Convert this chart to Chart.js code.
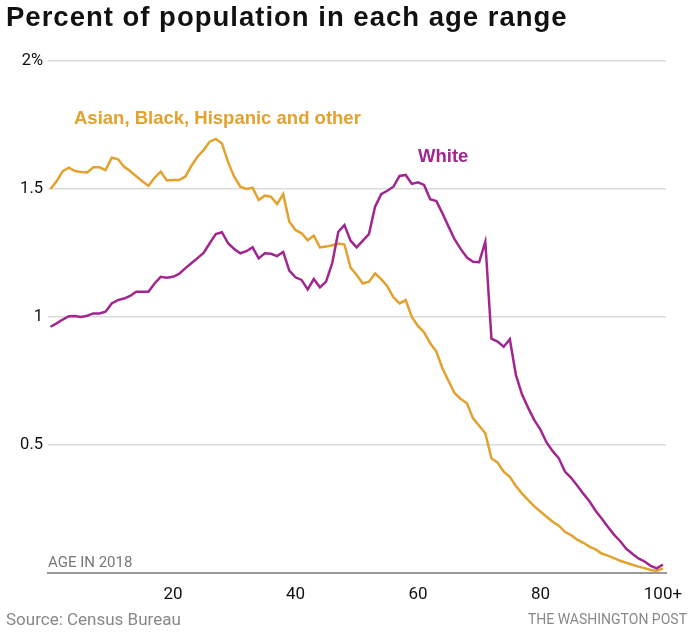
<!DOCTYPE html>
<html>
<head>
<meta charset="utf-8">
<script src="https://cdn.jsdelivr.net/npm/chart.js@4"></script>
<style>
  html, body { margin: 0; padding: 0; background: #fff; }
  #wrap { position: relative; width: 691px; height: 635px; overflow: hidden; font-family: "Roboto", "Liberation Sans", sans-serif; }
  #chart { position: absolute; left: 0; top: 0; }
  .txt { position: absolute; white-space: nowrap; }
  #title { left: 6px; top: 1px; font-family: "Liberation Sans", sans-serif; font-size: 27.5px; font-weight: 700; letter-spacing: 1px; color: #111; }
  #lblOther { left: 74px; top: 107px; font-family: "Liberation Sans", sans-serif; font-size: 18.5px; font-weight: 700; color: #e3a12e; }
  #lblWhite { left: 418px; top: 145px; font-family: "Liberation Sans", sans-serif; font-size: 18.5px; font-weight: 700; color: #a1268f; }
  #ageLbl { left: 48px; top: 553px; font-size: 15px; color: #777; }
  #source { left: 6px; top: 609px; font-size: 17px; color: #888; }
  #credit { right: 4px; top: 611px; font-size: 14px; color: #888; }
</style>
</head>
<body>
<div id="wrap">
  <canvas id="chart" width="691" height="635"></canvas>
  <div class="txt" id="title">Percent of population in each age range</div>
  <div class="txt" id="lblOther">Asian, Black, Hispanic and other</div>
  <div class="txt" id="lblWhite">White</div>
  <div class="txt" id="ageLbl">AGE IN 2018</div>
  <div class="txt" id="source">Source: Census Bureau</div>
  <div class="txt" id="credit">THE WASHINGTON POST</div>
</div>
<script>
/* ================= DATA ================= */
const ages = [];
for (let a = 0; a <= 100; a++) ages.push(a);

const otherPct = [
    1.50, 1.53, 1.57, 1.583, 1.57, 1.566, 1.565, 1.585, 1.585, 1.574,
    1.622, 1.617, 1.588, 1.57, 1.55, 1.53, 1.513, 1.544, 1.568, 1.533,
    1.535, 1.535, 1.548, 1.59, 1.626, 1.652, 1.685, 1.696, 1.678, 1.605,
    1.548, 1.509, 1.50, 1.505, 1.457, 1.474, 1.47, 1.441, 1.48, 1.372,
    1.34, 1.327, 1.30, 1.318, 1.272, 1.275, 1.28, 1.287, 1.283, 1.193,
    1.164, 1.131, 1.138, 1.17, 1.148, 1.12, 1.077, 1.053, 1.066, 1.0,
    0.965, 0.94, 0.897, 0.865, 0.80, 0.75, 0.702, 0.68, 0.663, 0.604,
    0.575, 0.546, 0.448, 0.431, 0.396, 0.376, 0.34, 0.31, 0.285, 0.26,
    0.24, 0.22, 0.20, 0.185, 0.161, 0.148, 0.13, 0.118, 0.103, 0.092,
    0.076, 0.068, 0.058, 0.048, 0.04, 0.032, 0.025, 0.019, 0.012, 0.008,
    0.018
];

const whitePct = [
    0.962, 0.975, 0.99, 1.003, 1.004, 1.0, 1.005, 1.014, 1.014, 1.021,
    1.053, 1.066, 1.072, 1.082, 1.099, 1.099, 1.099, 1.131, 1.157, 1.153,
    1.157, 1.168, 1.19, 1.21, 1.23, 1.25, 1.288, 1.324, 1.331, 1.288,
    1.266, 1.249, 1.257, 1.272, 1.229, 1.249, 1.247, 1.238, 1.254, 1.181,
    1.155, 1.145, 1.108, 1.148, 1.116, 1.138, 1.21, 1.333, 1.359, 1.298,
    1.272, 1.298, 1.324, 1.431, 1.48, 1.493, 1.509, 1.551, 1.555, 1.52,
    1.526, 1.516, 1.46, 1.453, 1.405, 1.353, 1.303, 1.265, 1.232, 1.216,
    1.214, 1.294, 0.915, 0.904, 0.884, 0.913, 0.773, 0.697, 0.645, 0.597,
    0.56, 0.51, 0.476, 0.448, 0.396, 0.372, 0.342, 0.31, 0.28, 0.243,
    0.213, 0.181, 0.15, 0.125, 0.095, 0.075, 0.057, 0.045, 0.028, 0.018,
    0.033
];

const xTicks = [20, 40, 60, 80, 100];
const xTickLabels = ['20', '40', '60', '80', '100+'];
const yTicks = [0, 0.5, 1, 1.5, 2];
const yTickLabels = ['', '0.5', '1', '1.5', '2%'];

/* ================= CHART ================= */
const toPoints = vals => ages.map((a, i) => ({ x: a, y: vals[i] }));

new Chart(document.getElementById('chart'), {
    type: 'line',
    data: {
        datasets: [{
            label: 'White',
            data: toPoints(whitePct),
            borderColor: '#a1268f',
            borderWidth: 2.5,
            pointRadius: 0,
            tension: 0
        }, {
            label: 'Asian, Black, Hispanic and other',
            data: toPoints(otherPct),
            borderColor: '#e3a12e',
            borderWidth: 2.5,
            pointRadius: 0,
            tension: 0
        }]
    },
    options: {
        responsive: false,
        animation: false,
        layout: { padding: { top: 61, right: 25, left: 0, bottom: 0 } },
        plugins: {
            legend: { display: false },
            tooltip: { enabled: false }
        },
        scales: {
            x: {
                type: 'linear',
                min: -0.4,
                max: 100.5,
                afterBuildTicks: scale => { scale.ticks = xTicks.map(v => ({ value: v })); },
                afterFit: scale => { scale.height = 62; },
                ticks: {
                    padding: 4,
                    color: '#111',
                    font: { family: 'Roboto', size: 17 },
                    maxRotation: 0,
                    callback: v => xTickLabels[xTicks.indexOf(v)]
                },
                grid: { display: false },
                border: { display: true, color: '#999', width: 2 }
            },
            y: {
                min: 0,
                max: 2,
                afterBuildTicks: scale => { scale.ticks = yTicks.map(v => ({ value: v })); },
                afterFit: scale => { scale.width = 48; },
                ticks: {
                    padding: 5,
                    color: '#111',
                    font: { family: 'Roboto', size: 16.5 },
                    callback: v => yTickLabels[yTicks.indexOf(v)]
                },
                grid: {
                    color: ctx => ctx.tick && ctx.tick.value === 0 ? 'rgba(0,0,0,0)' : '#dcdcdc',
                    lineWidth: 1.5,
                    drawTicks: false
                },
                border: { display: false }
            }
        }
    }
});
</script>
</body>
</html>
